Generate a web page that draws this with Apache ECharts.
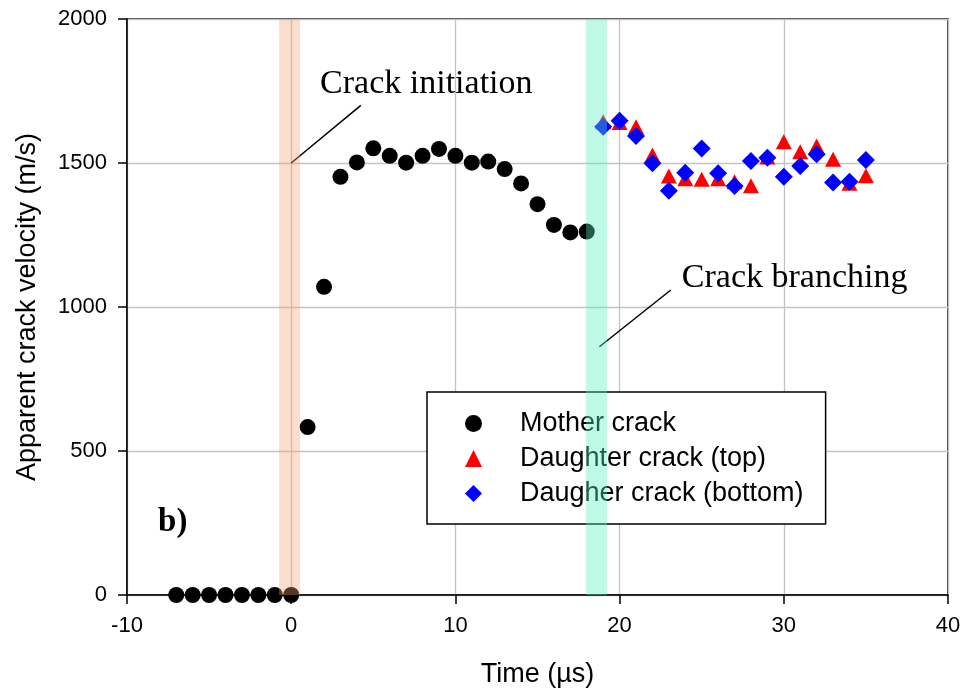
<!DOCTYPE html>
<html>
<head>
<meta charset="utf-8">
<script src="https://cdn.jsdelivr.net/npm/echarts@6/dist/echarts.min.js"></script>
<style>
  html, body { margin: 0; padding: 0; background: #fff; }
  #chart { width: 966px; height: 693px; }
</style>
</head>
<body>
<div id="chart"></div>
<script>
// Time axis (µs) and apparent crack velocity (m/s)
const motherTime = [-7, -6, -5, -4, -3, -2, -1, 0, 1, 2, 3, 4, 5, 6, 7, 8, 9, 10, 11, 12, 13, 14, 15, 16, 17, 18];
const motherVel  = [0, 0, 0, 0, 0, 0, 0, 0, 583, 1070, 1452, 1502, 1551, 1525, 1501, 1525, 1549, 1525, 1501, 1505, 1479, 1429, 1357, 1285, 1259, 1262];

const daughterTime = [19, 20, 21, 22, 23, 24, 25, 26, 27, 28, 29, 30, 31, 32, 33, 34, 35];
const topVel       = [1643, 1641, 1626, 1528, 1455, 1445, 1444, 1445, 1435, 1421, 1521, 1574, 1539, 1559, 1513, 1430, 1456];
const bottomVel    = [1626, 1647, 1594, 1499, 1404, 1466, 1550, 1464, 1420, 1507, 1518, 1452, 1490, 1530, 1432, 1435, 1510];

const seriesNames = ['Mother crack', 'Daughter crack (top)', 'Daugher crack (bottom)'];

const xTicks = { min: -10, max: 40, step: 10 };
const yTicks = { min: 0, max: 2000, step: 500 };

// Shaded event windows (time ranges)
const bandStart  = [-0.74, 17.96];
const bandEnd    = [0.54, 19.23];
const bandColors = ['rgba(246,160,116,0.35)', 'rgba(90,240,190,0.38)'];

// Annotation leader lines (data space) and their captions
const initLine   = [[0, 1500], [4.24, 1700]];
const branchLine = [[18.77, 862], [23.12, 1059]];
const noteText   = ['Crack initiation', 'Crack branching'];
const noteAnchor = [[1.76, 1773], [23.79, 1101]];
const panelTag   = 'b)';
const panelAnchor = [-8.11, 253];

const zip = (xs, ys) => xs.map((x, i) => [x, ys[i]]);
const bands = bandStart.map((s, i) => [s, bandEnd[i], i]);

const chart = echarts.init(document.getElementById('chart'), null, { renderer: 'canvas' });

const sans = "'Liberation Sans', Arial, sans-serif";
const serif = "'Liberation Serif', 'Times New Roman', serif";

const axisCommon = {
  nameLocation: 'middle',
  nameTextStyle: { fontFamily: sans, fontSize: 27, color: '#000' },
  axisLine: { onZero: false, lineStyle: { color: '#000', width: 1.5 } },
  axisTick: { show: true, inside: false, length: 9, lineStyle: { color: '#000', width: 1.5 } },
  axisLabel: { fontFamily: sans, fontSize: 22, color: '#000', margin: 20, formatter: (v) => String(v) },
  splitLine: { show: true, lineStyle: { color: '#c4c4c4', width: 1.3 } }
};

const option = {
  animation: false,
  backgroundColor: '#fff',
  grid: {
    left: 127, right: 18, top: 19, bottom: 98,
    show: true, borderColor: '#000', borderWidth: 1.5, backgroundColor: 'transparent'
  },
  xAxis: Object.assign({}, axisCommon, {
    type: 'value',
    min: xTicks.min, max: xTicks.max, interval: xTicks.step,
    name: 'Time (µs)', nameGap: 66
  }),
  yAxis: Object.assign({}, axisCommon, {
    type: 'value',
    min: yTicks.min, max: yTicks.max, interval: yTicks.step,
    name: 'Apparent crack velocity (m/s)', nameGap: 86
  }),
  legend: {
    data: seriesNames,
    orient: 'vertical',
    left: 427, top: 392,
    padding: [18, 22, 17, 38],
    itemWidth: 17, itemHeight: 17, itemGap: 8,
    backgroundColor: '#fff',
    borderColor: '#000', borderWidth: 1.5, borderRadius: 0,
    textStyle: { fontFamily: sans, fontSize: 27, lineHeight: 27, color: '#000', padding: [0, 0, 0, 33] },
    selectedMode: false,
    z: 4
  },
  series: [
    {
      name: seriesNames[0], type: 'scatter', z: 2,
      symbol: 'circle', symbolSize: 16,
      itemStyle: { color: '#000', opacity: 1 },
      data: zip(motherTime, motherVel)
    },
    {
      name: seriesNames[1], type: 'scatter', z: 2,
      symbol: 'triangle', symbolSize: [16, 15],
      itemStyle: { color: '#ff0000', opacity: 1 },
      data: zip(daughterTime, topVel)
    },
    {
      name: seriesNames[2], type: 'scatter', z: 2,
      symbol: 'diamond', symbolSize: 18,
      itemStyle: { color: '#0000ff', opacity: 1 },
      data: zip(daughterTime, bottomVel)
    },
    {
      type: 'line', silent: true, z: 3, symbol: 'none',
      lineStyle: { color: '#000', width: 1.5 },
      data: initLine
    },
    {
      type: 'line', silent: true, z: 3, symbol: 'none',
      lineStyle: { color: '#000', width: 1.5 },
      data: branchLine
    },
    {
      // translucent event windows, laid over points and legend
      type: 'custom', silent: true, z: 10,
      renderItem: function (params, api) {
        const p0 = api.coord([api.value(0), yTicks.max]);
        const p1 = api.coord([api.value(1), yTicks.min]);
        return {
          type: 'rect',
          shape: { x: p0[0], y: p0[1], width: p1[0] - p0[0], height: p1[1] - p0[1] },
          style: { fill: bandColors[api.value(2)] }
        };
      },
      encode: { x: [0, 1] },
      data: bands
    }
  ]
};

chart.setOption(option);

// Captions placed from data-space anchors
const toPx = (pt) => chart.convertToPixel({ gridIndex: 0 }, pt);
const graphics = noteText.map((t, i) => {
  const p = toPx(noteAnchor[i]);
  return {
    type: 'text', x: p[0], y: p[1], z: 5,
    style: { text: t, fontFamily: serif, fontSize: 34, fill: '#000', align: 'left', verticalAlign: 'middle' }
  };
});
const tp = toPx(panelAnchor);
graphics.push({
  type: 'text', x: tp[0], y: tp[1], z: 5,
  style: { text: panelTag, fontFamily: serif, fontSize: 33, fontWeight: 'bold', fill: '#000', align: 'left', verticalAlign: 'middle' }
});
chart.setOption({ graphic: graphics });
</script>
</body>
</html>
